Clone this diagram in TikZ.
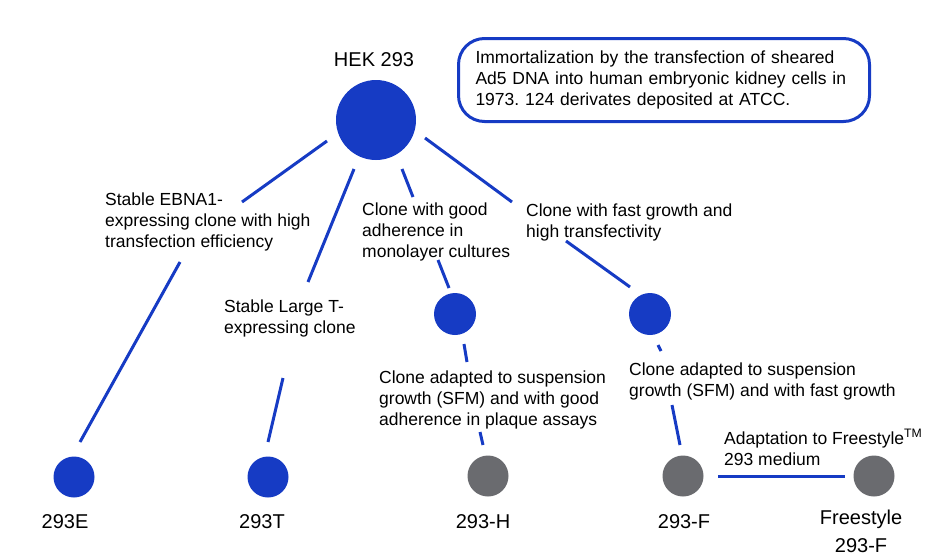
\documentclass[tikz,border=0pt]{standalone}
\usepackage{fontspec}
\setmainfont{Liberation Sans}
\frenchspacing

\definecolor{cellblue}{RGB}{22,59,196}
\definecolor{cellgray}{RGB}{106,107,111}

\tikzset{
  cell/.style={circle, fill=cellblue, minimum size=41pt, inner sep=0pt},
  greycell/.style={cell, fill=cellgray},
  branch/.style={draw=cellblue, line width=3pt},
  remark/.style={font=\fontsize{17.5}{21}\selectfont, align=left, inner sep=0pt, anchor=base west},
  cellname/.style={font=\fontsize{20}{28}\selectfont, align=center, inner sep=0pt},
  infobox/.style={draw=cellblue, line width=3pt, rounded corners=26pt, text width=377pt,
    inner xsep=17pt, inner ysep=0pt, minimum height=83pt, align=left,
    font=\fontsize{17.5}{21}\selectfont}
}

\begin{document}
\begin{tikzpicture}[x=1pt, y=-1pt]

\useasboundingbox (0,0) rectangle (936,555);

% Parent line
\node[cell, minimum size=80pt] (hek) at (376,120) {};
\node[cellname] (hekname) at (374,60) {HEK 293};

\node[infobox, anchor=north west] (info) at (457,37)
{Immortalization by the transfection of sheared\\
Ad5 DNA into human embryonic kidney cells in\\
1973. 124 derivates deposited at ATCC.};

% Intermediate clones
\node[cell, minimum size=42pt] (midh) at (455,314) {};
\node[cell, minimum size=42pt] (midf) at (650,314) {};

% Derived lines
\node[cell] (e) at (74,477) {};
\node[cell] (t) at (268,477) {};
\node[greycell] (h) at (488,476) {};
\node[greycell] (f) at (683,476) {};
\node[greycell] (fs) at (874,476) {};

\node[cellname] (ename) at (65,522) {293E};
\node[cellname] (tname) at (262,522) {293T};
\node[cellname] (hname) at (483,522) {293-H};
\node[cellname] (fname) at (684,522) {293-F};
\node[cellname, anchor=north] (fsname) at (861,510) {Freestyle\\293-F};

% Descriptions (placed at the baseline of their last line)
\node[remark] (ebna) at (105,247)
{Stable EBNA1-\\expressing clone with high\\transfection efficiency};
\node[remark] (larget) at (224,333)
{Stable Large T-\\expressing clone};
\node[remark] (good) at (362,257)
{Clone with good\\adherence in\\monolayer cultures};
\node[remark] (fast) at (526,237)
{Clone with fast growth and\\high transfectivity};
\node[remark] (plaque) at (379,425)
{Clone adapted to suspension\\growth (SFM) and with good\\adherence in plaque assays};
\node[remark] (sfm) at (629,396)
{Clone adapted to suspension\\growth (SFM) and with fast growth};
\node[remark] (adapt) at (724,465)
{Adaptation to Freestyle\textsuperscript{TM}\\293 medium};

% Branches
\draw[branch] ([shift={(-49,21)}]hek.center) -- ([shift={(137,-45)}]ebna.base west);
\draw[branch] ([shift={(75,15)}]ebna.base west) -- ([shift={(6,-35)}]e.center);

\draw[branch] ([shift={(-22,49)}]hek.center) -- ([shift={(84,-51)}]larget.base west);
\draw[branch] ([shift={(59,45)}]larget.base west) -- ([shift={(0,-35)}]t.center);

\draw[branch] ([shift={(26,49)}]hek.center) -- ([shift={(51,-60)}]good.base west);
\draw[branch] ([shift={(76,3)}]good.base west) -- ([shift={(-6,-26)}]midh.center);

\draw[branch] ([shift={(49,18)}]hek.center) -- ([shift={(-14,-35)}]fast.base west);
\draw[branch] ([shift={(40,4)}]fast.base west) -- ([shift={(-20,-27)}]midf.center);

\draw[branch] ([shift={(9,30)}]midh.center) -- ([shift={(88,-63)}]plaque.base west);
\draw[branch] ([shift={(101,7)}]plaque.base west) -- ([shift={(-5,-31)}]h.center);

\draw[branch] ([shift={(8,31)}]midf.center) -- ([shift={(32,-45)}]sfm.base west);
\draw[branch] ([shift={(43,9)}]sfm.base west) -- ([shift={(-3,-31)}]f.center);

\draw[branch] ([shift={(35,0)}]f.center) -- ([shift={(-29,0)}]fs.center);

\end{tikzpicture}
\end{document}
